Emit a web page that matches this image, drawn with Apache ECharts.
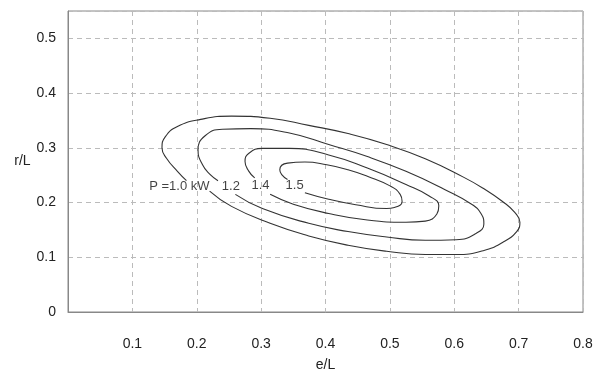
<!DOCTYPE html>
<html style="height: 100%">
<head>
    <meta charset="utf-8">
    <script type="text/javascript" src="https://cdn.jsdelivr.net/npm/echarts@6/dist/echarts.min.js"></script>
</head>
<body style="height: 100%; margin: 0; background: #fff">
    <div id="main" style="height: 377px; width: 605px"></div>
    <script type="text/javascript">
    // contour points, [e/L, r/L]
    // each curve starts just right of its label and goes round to just before it
    var curve10 = [[0.220,0.221],[0.254,0.193],[0.314,0.162],[0.374,0.139],[0.435,0.122],[0.495,0.111],
        [0.555,0.105],[0.603,0.105],[0.645,0.112],[0.675,0.127],[0.697,0.147],[0.702,0.164],[0.694,0.182],
        [0.675,0.202],[0.645,0.226],[0.615,0.246],[0.555,0.280],[0.495,0.306],[0.435,0.326],[0.374,0.341],
        [0.314,0.354],[0.254,0.358],[0.206,0.352],[0.170,0.339],[0.151,0.320],[0.146,0.300],[0.153,0.281],
        [0.170,0.257],[0.184,0.240]];
    var curve12 = [[0.260,0.215],[0.302,0.189],[0.374,0.162],[0.435,0.147],[0.495,0.137],[0.555,0.131],
        [0.603,0.132],[0.633,0.143],[0.646,0.161],[0.642,0.179],[0.627,0.197],[0.585,0.224],[0.525,0.257],
        [0.465,0.284],[0.405,0.306],[0.344,0.327],[0.284,0.335],[0.240,0.334],[0.213,0.322],[0.202,0.296],
        [0.209,0.269],[0.221,0.251],[0.233,0.240]];
    var curve14 = [[0.314,0.215],[0.350,0.197],[0.405,0.180],[0.465,0.168],[0.525,0.164],[0.555,0.166],
        [0.573,0.179],[0.576,0.194],[0.561,0.212],[0.525,0.233],[0.465,0.263],[0.405,0.287],[0.344,0.299],
        [0.302,0.299],[0.281,0.290],[0.275,0.275],[0.281,0.257],[0.290,0.245]];
    var curve15 = [[0.368,0.218],[0.405,0.206],[0.447,0.196],[0.495,0.189],[0.507,0.191],[0.519,0.202],
        [0.516,0.215],[0.501,0.230],[0.465,0.248],[0.435,0.260],[0.402,0.269],[0.368,0.274],[0.341,0.272],
        [0.329,0.260],[0.332,0.251],[0.341,0.242]];

    var labelText = ['P =1.0 kW', '1.2', '1.4', '1.5'];
    var labelPos = [[0.173,0.229],[0.253,0.229],[0.299,0.231],[0.352,0.231]];

    var myChart = echarts.init(document.getElementById('main'));

    function tenth(v) {
        return Math.abs(v * 10 - Math.round(v * 10)) < 1e-6 ? String(Math.round(v * 10) / 10) : '';
    }

    var lineStyle = {color: '#333', width: 1.1};
    var curveSeries = [curve10, curve12, curve14, curve15].map(function (pts) {
        return {
            type: 'line',
            data: pts,
            smooth: 0.5,
            symbol: 'none',
            lineStyle: lineStyle
        };
    });

    var labelData = labelText.map(function (t, i) {
        return {name: t, value: labelPos[i]};
    });

    var option = {
        animation: false,
        backgroundColor: '#fff',
        grid: {
            left: 68, right: 22, top: 11, bottom: 61,
            show: true, borderColor: '#888', borderWidth: 1
        },
        xAxis: {
            type: 'value',
            min: 0, max: 0.8, interval: 0.1,
            name: 'e/L',
            nameLocation: 'middle',
            nameGap: 46,
            nameTextStyle: {fontFamily: 'Liberation Sans', fontSize: 14, color: '#222'},
            axisLine: {lineStyle: {color: '#888'}},
            axisTick: {show: false},
            axisLabel: {
                margin: 25,
                fontFamily: 'Liberation Sans', fontSize: 14, color: '#222',
                formatter: function (v) { return v === 0 ? '' : tenth(v); }
            },
            splitLine: {lineStyle: {color: '#bbb', type: [5, 4]}}
        },
        yAxis: {
            type: 'value',
            min: 0, max: 0.55, interval: 0.1,
            name: 'r/L',
            nameLocation: 'middle',
            nameRotate: 0,
            nameGap: 37,
            nameTextStyle: {fontFamily: 'Liberation Sans', fontSize: 14, color: '#222'},
            axisLine: {lineStyle: {color: '#888'}},
            axisTick: {show: false},
            axisLabel: {
                margin: 12,
                fontFamily: 'Liberation Sans', fontSize: 14, color: '#222',
                formatter: tenth
            },
            splitLine: {lineStyle: {color: '#bbb', type: [5, 4]}}
        },
        series: curveSeries.concat([{
            type: 'scatter',
            data: labelData,
            symbolSize: 0,
            label: {
                show: true,
                position: 'inside',
                formatter: '{b}',
                fontFamily: 'Liberation Sans', fontSize: 13, color: '#111'
            }
        }])
    };

    myChart.setOption(option);
    </script>
</body>
</html>
